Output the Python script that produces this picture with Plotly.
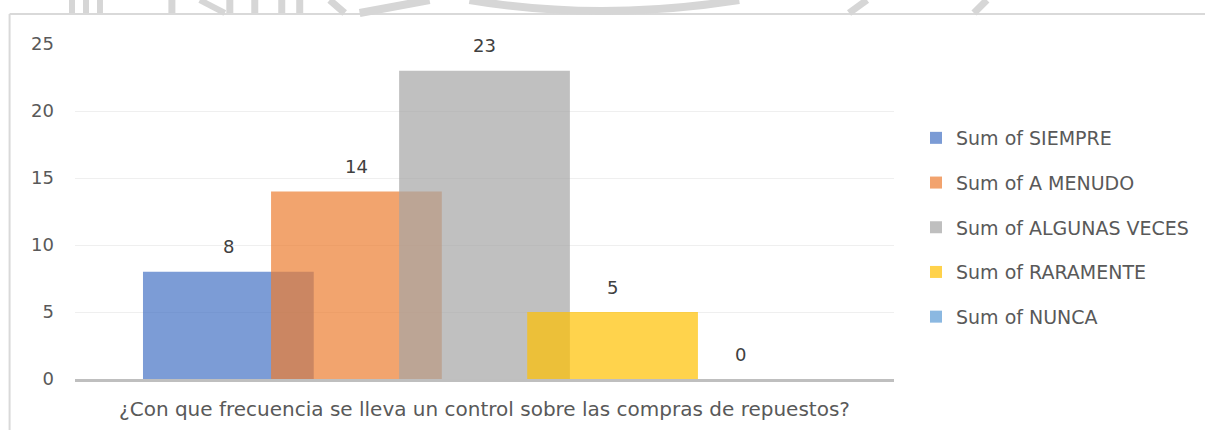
import plotly.graph_objects as go

# ---- data ----
category = "¿Con que frecuencia se lleva un control sobre las compras de repuestos?"
series_names = ["Sum of SIEMPRE", "Sum of A MENUDO", "Sum of ALGUNAS VECES",
                "Sum of RARAMENTE", "Sum of NUNCA"]
series_values = [8, 14, 23, 5, 0]
y_ticks = [0, 5, 10, 15, 20, 25]

# ---- style ----
colors = ["#4472C4", "#ED7D31", "#A5A5A5", "#FFC000", "#5B9BD5"]
FONT = "DejaVu Sans"
FS = 18
W, H = 1205, 430
ML, MR, MT, MB = 75, 310, 44, 51
bar_w = 0.2085          # fraction of category width
overlap = 0.25          # Excel-style series overlap
step = bar_w * (1 - overlap)
n = len(series_values)

fig = go.Figure()
for i, (name, val, col) in enumerate(zip(series_names, series_values, colors)):
    center = (i - (n - 1) / 2) * step
    fig.add_trace(go.Bar(
        x=[category], y=[val], name=name,
        marker=dict(color=col, line=dict(width=0)),
        opacity=0.7, width=bar_w, offset=center - bar_w / 2,
        legendgroup=name, hoverinfo="skip",
    ))
    fig.add_annotation(x=center, y=val, text=str(val), showarrow=False,
                       yshift=25, xref="x", yref="y",
                       font=dict(family=FONT, size=FS, color="#404040"))

# chart-area border (top & left edges visible)
pw = W - ML - MR
ph = H - MT - MB
def px_x(p):
    return (p - ML) / pw
def px_y(p):
    return (H - MB - p) / ph

border = "#D9D9D9"
fig.add_shape(type="line", xref="paper", yref="paper",
              x0=px_x(9.5), x1=px_x(W + 5), y0=px_y(14), y1=px_y(14),
              line=dict(color=border, width=2))
fig.add_shape(type="line", xref="paper", yref="paper",
              x0=px_x(9.5), x1=px_x(9.5), y0=px_y(14), y1=px_y(H + 5),
              line=dict(color=border, width=2))

# faint background watermark strokes at the very top
wm = "#D6D6D6"
for (a, b, c, d, wdt) in [(72, 0, 72, 13, 6), (86, 0, 86, 13, 6), (100, 0, 100, 13, 6),
                          (172, 0, 172, 13, 7), (200, 0, 225, 13, 6), (230, 0, 230, 13, 7),
                          (255, 0, 255, 13, 7), (282, 0, 282, 13, 7), (300, 0, 300, 13, 7),
                          (330, 0, 345, 13, 7), (360, 13, 430, 0, 8),
                          (850, 13, 868, 0, 7), (975, 13, 988, 0, 7)]:
    fig.add_shape(type="line", xref="paper", yref="paper",
                  x0=px_x(a), y0=px_y(b), x1=px_x(c), y1=px_y(d),
                  line=dict(color=wm, width=wdt))
fig.add_shape(type="path", xref="paper", yref="paper",
              path=(f"M {px_x(470)},{px_y(0)} Q {px_x(600)},{px_y(22)} "
                    f"{px_x(740)},{px_y(0)}"),
              line=dict(color=wm, width=8))

fig.update_layout(
    width=W, height=H,
    margin=dict(l=ML, r=MR, t=MT, b=MB),
    paper_bgcolor="white", plot_bgcolor="white",
    barmode="overlay",
    font=dict(family=FONT, size=FS, color="#595959"),
    showlegend=True,
    legend=dict(x=px_x(916), y=px_y(119), xanchor="left", yanchor="top",
                traceorder="grouped", tracegroupgap=17, itemwidth=30,
                font=dict(family=FONT, size=19, color="#595959"),
                bgcolor="rgba(0,0,0,0)"),
    xaxis=dict(range=[-0.5, 0.5], showgrid=False, zeroline=False,
               showline=True, linecolor="#BFBFBF", linewidth=3,
               ticks="", ticklabelstandoff=10, automargin=False,
               tickfont=dict(family=FONT, size=20, color="#595959")),
    yaxis=dict(range=[0, 25], tickvals=y_ticks, showgrid=True,
               gridcolor="#EFEFEF", gridwidth=1, zeroline=False,
               showline=False, ticks="", ticklabelstandoff=20, automargin=False,
               tickfont=dict(family=FONT, size=FS, color="#595959")),
)

fig.write_html("out.html",
               config={"displayModeBar": False},
               post_script="document.body.style.margin='0';"
                           "document.body.style.padding='0';"
                           "document.body.style.overflow='hidden';")
